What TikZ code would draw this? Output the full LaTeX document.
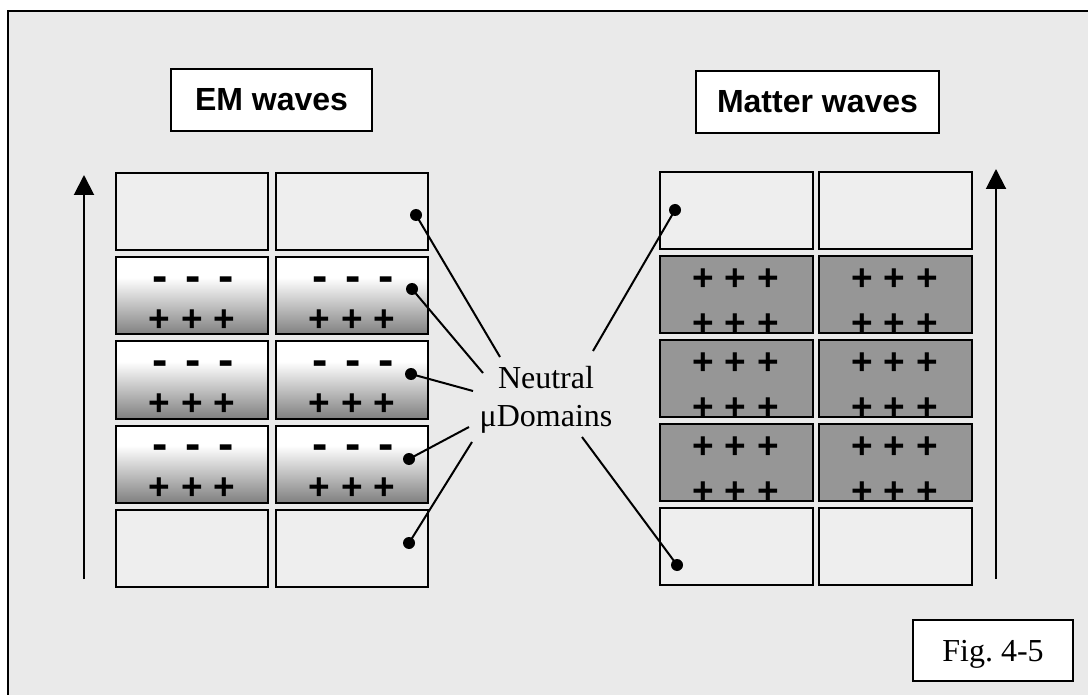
\documentclass[tikz,border=0pt]{standalone}
\usepackage{fontspec}
\setmainfont{Liberation Serif}
\setsansfont{Liberation Sans}
\usetikzlibrary{arrows.meta}
\definecolor{bg}{RGB}{234,234,234}
\definecolor{emptyfill}{RGB}{238,238,238}
\definecolor{matterfill}{RGB}{150,150,150}
\definecolor{shadegray}{RGB}{128,128,128}
\pgfdeclareverticalshading{emshade}{100bp}{color(0bp)=(shadegray); color(25bp)=(shadegray); color(62bp)=(white); color(100bp)=(white)}
\newcommand\plusrow{+\hskip11pt+\hskip11pt+}
\newcommand\minusrow{-\hskip18pt-\hskip18pt-}
\tikzset{
  cellbox/.style={draw=black, line width=2pt, minimum width=152pt, minimum height=77pt, inner sep=0pt, anchor=north west},
  emptycell/.style={cellbox, fill=emptyfill},
  emcell/.style={cellbox, shading=emshade},
  mattercell/.style={cellbox, fill=matterfill},
  plussigns/.style={inner sep=0pt, anchor=base, font=\sffamily\bfseries\fontsize{37}{37}\selectfont},
  minussigns/.style={inner sep=0pt, anchor=base, font=\sffamily\bfseries\fontsize{46}{46}\selectfont},
  hdr/.style={draw=black, line width=2pt, fill=white, minimum height=62pt, inner sep=0pt, font=\sffamily\bfseries\fontsize{32}{32}\selectfont},
  dot/.style={circle, fill=black, inner sep=0pt, minimum size=12pt},
  conn/.style={line width=2pt},
  uparrow/.style={line width=2pt, -{Triangle[length=20pt,width=20pt]}}
}
\begin{document}
\frenchspacing
\begin{tikzpicture}[x=1pt, y=-1pt]
\useasboundingbox (0,0) rectangle (1088,695);
\fill[white] (0,0) rectangle (1088,695);
\clip (0,0) rectangle (1088,695);
\draw[line width=2pt, fill=bg] (8,11) rectangle (1110,720);

% headers
\node[hdr, minimum width=201pt] (em) at (271.5,100) {EM waves};
\node[hdr, minimum width=243pt] (mw) at (817.5,102) {Matter waves};

% left grid
\foreach \c/\x in {1/115,2/275}{
  \foreach \r/\y in {1/172,5/508.5}
    \node[emptycell] (L\r\c) at (\x,\y) {};
  \foreach \r/\y in {2/256.5,3/340.5,4/424.5}{
    \node[emcell] (L\r\c) at (\x,\y) {};
    \node[minussigns] (Lm\r\c) at ([xshift=1pt,yshift=-35pt]L\r\c.north) {\minusrow};
    \node[plussigns] (Lp\r\c) at ([yshift=-74.5pt]L\r\c.north) {\plusrow};
  }
}

% right grid
\foreach \c/\x in {1/659,2/818}{
  \foreach \r/\y in {1/171,5/507}
    \node[emptycell, minimum width=153pt] (R\r\c) at (\x,\y) {};
  \foreach \r/\y in {2/255,3/339,4/423}{
    \node[mattercell, minimum width=153pt] (R\r\c) at (\x,\y) {};
    \node[plussigns] (Rt\r\c) at ([xshift=-1pt,yshift=-35.5pt]R\r\c.north) {\plusrow};
    \node[plussigns] (Rb\r\c) at ([xshift=-1pt,yshift=-80pt]R\r\c.north) {\plusrow};
  }
}

% vertical arrows
\coordinate (la0) at (84,579);
\coordinate (la1) at (84,175);
\draw[uparrow] (la0) -- (la1);
\coordinate (ra0) at (996,579);
\coordinate (ra1) at (996,169);
\draw[uparrow] (ra0) -- (ra1);

% label
\node[inner sep=0pt, align=center, font=\fontsize{32}{38}\selectfont] (lab) at (546,400) {Neutral\\μDomains};

% dots
\node[dot] (d1) at (416,215) {};
\node[dot] (d2) at (412,289) {};
\node[dot] (d3) at (411,374) {};
\node[dot] (d4) at (409,459) {};
\node[dot] (d5) at (409,543) {};
\node[dot] (r1) at (675,210) {};
\node[dot] (r2) at (677,565) {};

\coordinate (e1) at (500,357);
\coordinate (e2) at (483,373);
\coordinate (e3) at (473,391);
\coordinate (e4) at (469,427);
\coordinate (e5) at (472,442);
\coordinate (f1) at (593,351);
\coordinate (f2) at (582,437);

\draw[conn] (d1.center) -- (e1);
\draw[conn] (d2.center) -- (e2);
\draw[conn] (d3.center) -- (e3);
\draw[conn] (d4.center) -- (e4);
\draw[conn] (d5.center) -- (e5);
\draw[conn] (r1.center) -- (f1);
\draw[conn] (r2.center) -- (f2);

% figure label
\node[draw=black, line width=2pt, fill=white, minimum width=160pt, minimum height=61pt, inner sep=0pt, text depth=0pt, font=\fontsize{32}{32}\selectfont] (fig) at (993,650.5) {Fig. 4-5};
\end{tikzpicture}
\end{document}
